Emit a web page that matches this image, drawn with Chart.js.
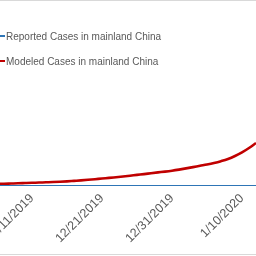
<!DOCTYPE html>
<html lang="en">
<head>
    <meta charset="UTF-8">
    <title>Cases in mainland China</title>
    <style>
        body {
            margin: 0;
            background-color: #ffffff;
            font-family: "Liberation Sans", Arial, sans-serif;
        }

        .chart-wrap {
            position: relative;
            width: 256px;
            height: 256px;
            overflow: hidden;
        }

        .frame {
            position: absolute;
            left: 0;
            width: 256px;
            height: 1px;
            background-color: #d9d9d9;
        }

        .legend {
            position: absolute;
            left: -2px;
            top: 29px;
        }

        .legend-item {
            height: 14px;
            margin-bottom: 11px;
            display: flex;
            align-items: center;
            font-size: 10px;
            color: #595959;
            white-space: nowrap;
        }

        .legend-item span.mark {
            width: 7px;
            height: 2px;
            margin-right: 1px;
        }

        #lineChart {
            position: absolute;
            left: -3px;
            top: 0;
        }
    </style>
</head>
<body>
    <div class="chart-wrap">
        <canvas id="lineChart" width="259" height="256"></canvas>
        <div class="frame" style="top: 0;"></div>
        <div class="frame" style="top: 254px;"></div>
        <div class="legend" id="legend"></div>
    </div>
    <script src="https://cdn.jsdelivr.net/npm/chart.js"></script>
    <script>
        // Dager langs x-aksen
        const dates = [
            '12/6/2019', '12/7/2019', '12/8/2019', '12/9/2019', '12/10/2019',
            '12/11/2019', '12/12/2019', '12/13/2019', '12/14/2019', '12/15/2019',
            '12/16/2019', '12/17/2019', '12/18/2019', '12/19/2019', '12/20/2019',
            '12/21/2019', '12/22/2019', '12/23/2019', '12/24/2019', '12/25/2019',
            '12/26/2019', '12/27/2019', '12/28/2019', '12/29/2019', '12/30/2019',
            '12/31/2019', '1/1/2020', '1/2/2020', '1/3/2020', '1/4/2020',
            '1/5/2020', '1/6/2020', '1/7/2020', '1/8/2020', '1/9/2020',
            '1/10/2020', '1/11/2020', '1/12/2020'
        ];

        const tickLabels = ['12/11/2019', '12/21/2019', '12/31/2019', '1/10/2020'];

        const seriesNames = ['Reported Cases in mainland China', 'Modeled Cases in mainland China'];

        const reported = [
            0, 0, 0, 0, 0, 0, 0, 0, 0, 0,
            0, 0, 0, 0, 0, 0, 0, 0, 0, 0,
            0, 0, 0, 0, 0, 0, 0, 0, 0, 0,
            0, 0, 0, 0, 0, 0, 0, 0
        ];

        const modeled = [
            51, 55, 60, 65, 71, 77, 83, 89, 95, 102,
            111, 123, 135, 149, 164, 181, 195, 212, 229, 248,
            268, 287, 308, 328, 347, 369, 395, 424, 455, 487,
            518, 554, 598, 651, 723, 810, 916, 1036
        ];

        const colors = ['#2e75b6', '#c00000'];

        // Forklaring (legend) som tekst
        const legendEl = document.getElementById('legend');
        seriesNames.forEach((name, i) => {
            const item = document.createElement('div');
            item.className = 'legend-item';
            item.innerHTML = '<span class="mark" style="background:' + colors[i] + '"></span>' + name;
            legendEl.appendChild(item);
        });

        const ctx = document.getElementById('lineChart').getContext('2d');
        const lineChart = new Chart(ctx, {
            type: 'line',
            data: {
                labels: dates,
                datasets: [{
                    label: seriesNames[0],
                    data: reported,
                    borderColor: colors[0],
                    borderWidth: 2,
                    pointRadius: 0
                }, {
                    label: seriesNames[1],
                    data: modeled,
                    borderColor: colors[1],
                    borderWidth: 2.6,
                    pointRadius: 0,
                    cubicInterpolationMode: 'monotone'
                }]
            },
            options: {
                responsive: false,
                animation: false,
                layout: {
                    padding: { top: 20, left: 0, right: 0, bottom: 0 }
                },
                plugins: {
                    legend: { display: false },
                    tooltip: { enabled: false }
                },
                scales: {
                    x: {
                        grid: { display: false, drawTicks: false },
                        border: { display: false },
                        afterFit: function(scale) {
                            scale.height = 70;
                            scale.paddingLeft = 0;
                            scale.paddingRight = 0;
                        },
                        ticks: {
                            autoSkip: false,
                            minRotation: 45,
                            maxRotation: 45,
                            padding: 5,
                            color: '#595959',
                            font: { family: 'Liberation Sans', size: 12.5 },
                            callback: function(value) {
                                const label = dates[value];
                                return tickLabels.includes(label) ? label : '';
                            }
                        }
                    },
                    y: {
                        display: false,
                        min: 0,
                        max: 4000
                    }
                }
            }
        });
    </script>
</body>
</html>
